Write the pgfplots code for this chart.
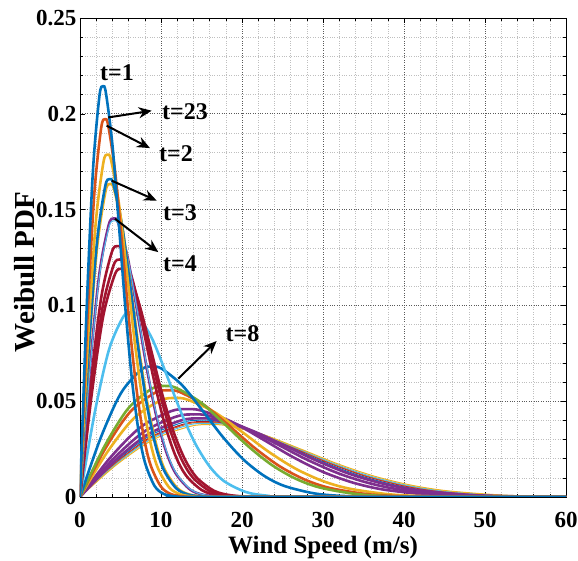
\documentclass[border=0pt]{standalone}
\usepackage{pgfplots}
\pgfplotsset{compat=1.18}
\usepackage{fontspec}
\setmainfont{Liberation Serif}
\usetikzlibrary{arrows.meta}
\definecolor{mblue}{HTML}{0072BD}
\definecolor{morange}{HTML}{D95319}
\definecolor{myellow}{HTML}{EDB120}
\definecolor{mpurple}{HTML}{7E2F8E}
\definecolor{mgreen}{HTML}{77AC30}
\definecolor{mlblue}{HTML}{4DBEEE}
\definecolor{mred}{HTML}{A2142F}
\begin{document}
\begin{tikzpicture}
\begin{axis}[
  name=ax, scale only axis, width=486pt, height=479pt,
  xmin=0, xmax=60, ymin=0, ymax=0.25,
  xtick={0,10,20,30,40,50,60}, ytick={0,0.05,0.1,0.15,0.2,0.25},
  xticklabels={0,10,20,30,40,50,60}, yticklabels={0,0.05,0.1,0.15,0.2,0.25},
  minor x tick num=4, minor y tick num=4,
  grid=both,
  major grid style={dotted, black!65, line width=0.7pt},
  minor grid style={dotted, black!25, line width=0.5pt},
  tick align=inside, major tick length=5pt, minor tick length=3pt,
  every tick/.style={black, line width=0.5pt},
  axis line style={line width=0.8pt},
  ticklabel style={font=\fontsize{23}{23}\selectfont\bfseries},
  xticklabel style={inner sep=1pt, yshift=-14pt},
  xlabel={Wind Speed (m/s)}, ylabel={Weibull PDF},
  xlabel style={at={(axis description cs:0.5,-0.106)}, anchor=center, inner sep=1pt, font=\fontsize{25}{25}\selectfont\bfseries},
  ylabel style={at={(axis description cs:-0.113,0.47)}, anchor=center, font=\fontsize{29}{29}\selectfont\bfseries},
  every axis plot/.append style={smooth, mark=none},
  tk/.style={line width=2.6pt},
  tn/.style={line width=1pt},
]
% wide thin curves
\addplot[tn, mblue] coordinates {(0,0)(4.28,0.01796)(8.56,0.03186)(12.84,0.03912)(15.132,0.04008)(17.12,0.03942)(21.4,0.03438)(25.68,0.02657)(29.96,0.01843)(34.24,0.01156)(38.52,0.00659)(42.8,0.00342)(49.22,0.00108)(55.64,0.00028)(60,0.0001)};
\addplot[tn, mred] coordinates {(0,0)(4.36,0.01763)(8.72,0.03127)(13.08,0.0384)(15.415,0.03935)(17.44,0.0387)(21.8,0.03375)(26.16,0.02608)(30.52,0.01809)(34.88,0.01135)(39.24,0.00647)(43.6,0.00336)(50.14,0.00106)(56.68,0.00028)(60,0.00013)};
\addplot[tn, morange] coordinates {(0,0)(4.4,0.01747)(8.8,0.03099)(13.2,0.03806)(15.556,0.03899)(17.6,0.03835)(22,0.03344)(26.4,0.02585)(30.8,0.01793)(35.2,0.01124)(39.6,0.00641)(44,0.00333)(50.6,0.00105)(57.2,0.00027)(60,0.00015)};
\addplot[tn, mlblue] coordinates {(0,0)(4.46,0.01723)(8.92,0.03057)(13.38,0.03754)(15.768,0.03846)(17.84,0.03783)(22.3,0.03299)(26.76,0.0255)(31.22,0.01769)(35.68,0.01109)(40.14,0.00632)(44.6,0.00329)(51.29,0.00104)(57.98,0.00027)(60,0.00017)};
\addplot[tn, myellow] coordinates {(0,0)(4.54,0.01693)(9.08,0.03003)(13.62,0.03688)(16.051,0.03779)(18.16,0.03717)(22.7,0.03241)(27.24,0.02505)(31.78,0.01737)(36.32,0.0109)(40.86,0.00621)(45.4,0.00323)(52.21,0.00102)(59.02,0.00027)(60,0.00022)};
% purples
\addplot[tk, mpurple] coordinates {(0,0)(4.18,0.01839)(8.36,0.03262)(12.54,0.04006)(14.779,0.04104)(16.72,0.04037)(20.9,0.0352)(25.08,0.02721)(29.26,0.01887)(33.44,0.01183)(37.62,0.00674)(41.8,0.00351)(48.07,0.00111)(54.34,0.00029)(60,0.00007)};
\addplot[tk, mpurple] coordinates {(0,0)(3.98,0.01931)(7.96,0.03426)(11.94,0.04207)(14.071,0.0431)(15.92,0.0424)(19.9,0.03697)(23.88,0.02857)(27.86,0.01982)(31.84,0.01243)(35.82,0.00708)(39.8,0.00368)(45.77,0.00117)(51.74,0.0003)(60,0.00003)};
\addplot[tk, mpurple] coordinates {(0,0)(3.74,0.02055)(7.48,0.03646)(11.22,0.04477)(13.223,0.04587)(14.96,0.04512)(18.7,0.03935)(22.44,0.03041)(26.18,0.02109)(29.92,0.01323)(33.66,0.00754)(37.4,0.00392)(43.01,0.00124)(48.62,0.00032)(56.1,0.00004)(60,0.00001)};
% mid curves
\addplot[tk, myellow] coordinates {(0,0)(3.32,0.02315)(6.64,0.04107)(9.96,0.05043)(11.738,0.05167)(13.28,0.05082)(16.6,0.04432)(19.92,0.03425)(23.24,0.02376)(26.56,0.0149)(29.88,0.00849)(33.2,0.00441)(38.18,0.0014)(43.16,0.00036)(49.8,0.00004)(60,0)};
\addplot[tk, morange] coordinates {(0,0)(3.08,0.02496)(6.16,0.04427)(9.24,0.05436)(10.889,0.0557)(12.32,0.05478)(15.4,0.04778)(18.48,0.03692)(21.56,0.02561)(24.64,0.01606)(27.72,0.00915)(30.8,0.00476)(35.42,0.00151)(40.04,0.00039)(46.2,0.00005)(60,0)};
\addplot[tk, mgreen] coordinates {(0,0)(2.96,0.02597)(5.92,0.04606)(8.88,0.05657)(10.465,0.05796)(11.84,0.057)(14.8,0.04971)(17.76,0.03842)(20.72,0.02665)(23.68,0.01671)(26.64,0.00952)(29.6,0.00495)(34.04,0.00157)(38.48,0.00041)(44.4,0.00005)(60,0)};
\addplot[tk, mblue] coordinates {(0,0)(2.52,0.0305)(5.04,0.0541)(7.56,0.06645)(8.909,0.06808)(10.08,0.06696)(12.6,0.05839)(15.12,0.04513)(17.64,0.0313)(20.16,0.01963)(22.68,0.01119)(25.2,0.00581)(28.98,0.00184)(32.76,0.00048)(37.8,0.00006)(60,0)};
\addplot[tk, mlblue] coordinates {(0,0)(1.78,0.04318)(3.56,0.0766)(5.34,0.09407)(6.293,0.09638)(7.12,0.09479)(8.9,0.08267)(10.68,0.06389)(12.46,0.04432)(14.24,0.02779)(16.02,0.01584)(17.8,0.00823)(20.47,0.00261)(23.14,0.00068)(26.7,0.00008)(60,0)};
% narrow curves
\addplot[tk, mred] coordinates {(0,0)(1.44,0.05338)(2.88,0.09468)(4.32,0.11628)(5.091,0.11913)(5.76,0.11718)(7.2,0.10219)(8.64,0.07898)(10.08,0.05478)(11.52,0.03435)(12.96,0.01958)(14.4,0.01018)(16.56,0.00322)(18.72,0.00084)(21.6,0.0001)(25.2,0)(60,0)};
\addplot[tk, mred] coordinates {(0,0)(1.384,0.05554)(2.768,0.09851)(4.152,0.12098)(4.893,0.12395)(5.536,0.12192)(6.92,0.10632)(8.304,0.08217)(9.688,0.057)(11.072,0.03574)(12.456,0.02037)(13.84,0.01059)(15.916,0.00335)(17.992,0.00087)(20.76,0.00011)(24.2,0)(60,0)};
\addplot[tk, mred] coordinates {(0,0)(1.31,0.05867)(2.62,0.10408)(3.93,0.12782)(4.632,0.13096)(5.24,0.1288)(6.55,0.11233)(7.86,0.08681)(9.17,0.06022)(10.48,0.03776)(11.79,0.02152)(13.1,0.01118)(15.065,0.00354)(17.03,0.00092)(19.65,0.00011)(22.9,0)(60,0)};
\addplot[tk, mpurple] coordinates {(0,0)(1.18,0.06514)(2.36,0.11554)(3.54,0.1419)(4.172,0.14538)(4.72,0.14299)(5.9,0.12471)(7.08,0.09638)(8.26,0.06685)(9.44,0.04192)(10.62,0.02389)(11.8,0.01242)(13.57,0.00393)(15.34,0.00102)(17.7,0.00013)(20.6,0)(60,0)};
\addplot[tn, mlblue] coordinates {(0,0)(1.19,0.06459)(2.38,0.11457)(3.57,0.14071)(4.207,0.14416)(4.76,0.14179)(5.95,0.12366)(7.14,0.09557)(8.33,0.06629)(9.52,0.04157)(10.71,0.02369)(11.9,0.01231)(13.685,0.0039)(15.47,0.00101)(17.85,0.00012)(20.8,0)(60,0)};
\addplot[tk, myellow] coordinates {(0,0)(1.05,0.0732)(2.1,0.12985)(3.15,0.15947)(3.712,0.16338)(4.2,0.1607)(5.25,0.14014)(6.3,0.10831)(7.35,0.07513)(8.4,0.04711)(9.45,0.02685)(10.5,0.01395)(12.075,0.00442)(13.65,0.00115)(15.75,0.00014)(18.4,0)(60,0)};
\addplot[tk, mblue] coordinates {(0,0)(1.034,0.07434)(2.068,0.13186)(3.102,0.16194)(3.656,0.16591)(4.136,0.16318)(5.17,0.14231)(6.204,0.10999)(7.238,0.07629)(8.272,0.04784)(9.306,0.02727)(10.34,0.01417)(11.891,0.00449)(13.442,0.00117)(15.51,0.00014)(18.1,0)(60,0)};
\addplot[tk, myellow] coordinates {(0,0)(0.96,0.08007)(1.92,0.14202)(2.88,0.17442)(3.394,0.1787)(3.84,0.17576)(4.8,0.15328)(5.76,0.11846)(6.72,0.08217)(7.68,0.05153)(8.64,0.02937)(9.6,0.01526)(11.04,0.00483)(12.48,0.00126)(14.4,0.00015)(16.8,0)(60,0)};
\addplot[tk, morange] coordinates {(0,0)(0.87,0.08835)(1.74,0.15672)(2.61,0.19247)(3.076,0.19719)(3.48,0.19395)(4.35,0.16914)(5.22,0.13072)(6.09,0.09067)(6.96,0.05686)(7.83,0.03241)(8.7,0.01684)(10.005,0.00533)(11.31,0.00139)(13.05,0.00017)(15.2,0)(60,0)};
\addplot[tk, mblue] coordinates {(0,0)(0.8,0.0961)(1.6,0.1704)(2.4,0.2093)(2.828,0.2144)(3.2,0.2109)(4.0,0.1839)(4.8,0.1422)(5.6,0.0986)(6.4,0.0618)(7.2,0.0352)(8.0,0.0183)(9.2,0.0058)(10.4,0.0015)(12.0,0.0002)(14,0)(60,0)};
% annotations
\tikzset{ar/.style={-{Stealth[length=13pt,width=11pt]}, line width=2pt, black}, lb/.style={font=\fontsize{24}{24}\selectfont\bfseries, black}}
\node[lb] at (axis cs:4.57,0.2214) {t=1};
\draw[ar] (axis cs:3.49,0.1981) -- (axis cs:8.85,0.2016);
\node[lb] at (axis cs:12.96,0.2010) {t=23};
\draw[ar] (axis cs:3.29,0.1938) -- (axis cs:8.64,0.1821);
\node[lb] at (axis cs:11.85,0.1792) {t=2};
\draw[ar] (axis cs:3.91,0.1651) -- (axis cs:9.47,0.1547);
\node[lb] at (axis cs:12.35,0.1486) {t=3};
\draw[ar] (axis cs:4.32,0.1452) -- (axis cs:9.67,0.1278);
\node[lb] at (axis cs:12.35,0.1219) {t=4};
\draw[ar] (axis cs:12.14,0.0618) -- (axis cs:16.87,0.0814);
\node[lb] at (axis cs:20.06,0.0852) {t=8};
\end{axis}
\pgfresetboundingbox
\path ([shift={(-80pt,-64pt)}]ax.south west) rectangle ([shift={(12pt,18pt)}]ax.north east);
\end{tikzpicture}
\end{document}
